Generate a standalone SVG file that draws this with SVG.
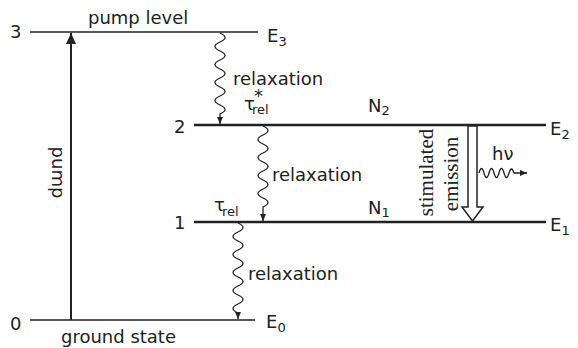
<svg xmlns="http://www.w3.org/2000/svg" width="578" height="348" viewBox="0 0 578 348">
<style>
text{font-family:"DejaVu Sans","Liberation Sans",sans-serif;font-size:18px;fill:#222}
.sub{font-size:13px}
.serif{font-family:"Liberation Serif",serif;font-size:21px}
.lvl{stroke:#222;fill:none}
.wave{stroke:#222;stroke-width:1.3;fill:none}
</style>
<defs>
<marker id="ah" markerUnits="userSpaceOnUse" markerWidth="8" markerHeight="6" refX="7" refY="3" orient="auto">
<path d="M0,0 L7,3 L0,6 z" fill="#222"/>
</marker>
<marker id="big" markerUnits="userSpaceOnUse" markerWidth="12" markerHeight="11" refX="11" refY="5" orient="auto">
<path d="M0,0 L11,5 L0,10 z" fill="#222"/>
</marker>
</defs>
<g id="level3">
<line class="lvl" x1="30" y1="32" x2="258" y2="32" stroke-width="1.6"/>
<text x="10" y="38">3</text>
<text x="88" y="24">pump level</text>
<text x="267" y="42">E<tspan class="sub" dy="4">3</tspan></text>
</g>
<g id="level2">
<line class="lvl" x1="194" y1="125" x2="546" y2="125" stroke-width="2.4"/>
<text x="174" y="133">2</text>
<text x="368" y="112">N<tspan class="sub" dy="3">2</tspan></text>
<text x="550" y="135">E<tspan class="sub" dy="4">2</tspan></text>
</g>
<g id="level1">
<line class="lvl" x1="194" y1="222" x2="546" y2="222" stroke-width="2.4"/>
<text x="174" y="229">1</text>
<text x="368" y="214">N<tspan class="sub" dy="3">1</tspan></text>
<text x="550" y="231">E<tspan class="sub" dy="4">1</tspan></text>
</g>
<g id="level0">
<line class="lvl" x1="30" y1="320" x2="255" y2="320" stroke-width="1.6"/>
<text x="10" y="330">0</text>
<text x="61" y="343">ground state</text>
<text x="266" y="328">E<tspan class="sub" dy="4">0</tspan></text>
</g>
<g id="connectors">
<line x1="71" y1="320" x2="71" y2="33" stroke="#222" stroke-width="2" marker-end="url(#big)"/>
<path class="wave" d="M220,33 q10,4.5 0,9 q-10,4.5 0,9 q10,4.5 0,9 q-10,4.5 0,9 q10,4.5 0,9 q-10,4.5 0,9 q10,4.5 0,9 q-10,4.5 0,9 q10,4.5 0,9 L220,124" marker-end="url(#ah)"/>
<path class="wave" d="M263,126 q10,4.5 0,9 q-10,4.5 0,9 q10,4.5 0,9 q-10,4.5 0,9 q10,4.5 0,9 q-10,4.5 0,9 q10,4.5 0,9 q-10,4.5 0,9 q10,4.5 0,9 L263,221" marker-end="url(#ah)"/>
<path class="wave" d="M238,223 q10,4.5 0,9 q-10,4.5 0,9 q10,4.5 0,9 q-10,4.5 0,9 q10,4.5 0,9 q-10,4.5 0,9 q10,4.5 0,9 q-10,4.5 0,9 q10,4.5 0,9 q-10,4.5 0,9 L238,319" marker-end="url(#ah)"/>
<path class="wave" d="M479,173 q2.5,-9 5,0 q2.5,9 5,0 q2.5,-9 5,0 q2.5,9 5,0 q2.5,-9 5,0 q2.5,9 5,0 q2.5,-8 5,0 L527,173" marker-end="url(#ah)"/>
</g>
<g id="pump">
<text transform="translate(52,172.5) rotate(90)" text-anchor="middle">pump</text>
</g>
<g id="relaxations">
<text x="233" y="85">relaxation</text>
<text x="272" y="181">relaxation</text>
<text x="248" y="280">relaxation</text>
<text x="244" y="110" font-size="17">τ</text>
<text x="252" y="114" class="sub">rel</text>
<text x="254" y="102" font-size="11">*</text>
<text x="214" y="211" font-size="17">τ</text>
<text x="222" y="216" class="sub">rel</text>
</g>
<g id="emission">
<path d="M468,126 L477,126 L477,207 L483,207 L472.5,221 L462,207 L468,207 Z" fill="#fff" stroke="#222" stroke-width="1.5"/>
<text class="serif" transform="translate(433,172.5) rotate(-90)" text-anchor="middle">stimulated</text>
<text class="serif" transform="translate(458,174) rotate(-90)" text-anchor="middle">emission</text>
<text x="492" y="160">hν</text>
</g>
</svg>
